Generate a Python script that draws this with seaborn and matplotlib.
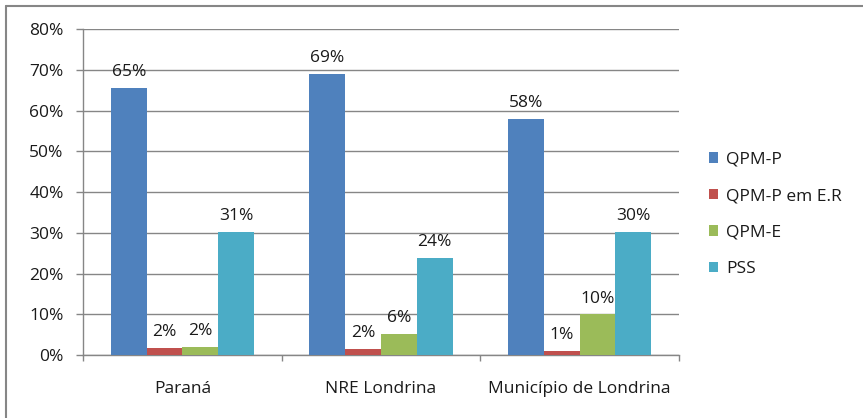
import matplotlib
matplotlib.use("Agg")
import matplotlib.pyplot as plt
import seaborn as sns
import pandas as pd
from matplotlib.patches import Patch
from matplotlib.lines import Line2D

# data
categories = ["Paraná", "NRE Londrina", "Município de Londrina"]
series = ["QPM-P", "QPM-P em E.R", "QPM-E", "PSS"]
qpm_p = [0.655, 0.69, 0.58]
qpm_p_er = [0.017, 0.015, 0.010]
qpm_e = [0.020, 0.052, 0.100]
pss = [0.302, 0.238, 0.302]
value_labels = {
    "QPM-P": ["65%", "69%", "58%"],
    "QPM-P em E.R": ["2%", "2%", "1%"],
    "QPM-E": ["2%", "6%", "10%"],
    "PSS": ["31%", "24%", "30%"],
}
y_ticks = [0, 0.1, 0.2, 0.3, 0.4, 0.5, 0.6, 0.7, 0.8]
colors = ["#4F81BD", "#C0504D", "#9BBB59", "#4BACC6"]

rows = []
for name, vals in zip(series, [qpm_p, qpm_p_er, qpm_e, pss]):
    for cat, v in zip(categories, vals):
        rows.append({"local": cat, "tipo": name, "valor": v})
df = pd.DataFrame(rows)

sns.set_style("white")
plt.rcParams["font.family"] = ["Open Sans", "DejaVu Sans"]
FS = 12.5

fig = plt.figure(figsize=(8.63, 4.18), dpi=100)
ax = fig.add_axes([0.0962, 0.1507, 0.6906, 0.7799])

sns.barplot(data=df, x="local", y="valor", hue="tipo", order=categories,
            hue_order=series, palette=colors, width=0.72, saturation=1,
            errorbar=None, ax=ax, legend=False, zorder=3, linewidth=0)

# value labels above bars
for container, name in zip(ax.containers, series):
    for bar, lab in zip(container, value_labels[name]):
        ax.annotate(lab, (bar.get_x() + bar.get_width() / 2, bar.get_height()),
                    xytext=(0, 5.5), textcoords="offset points",
                    ha="center", va="bottom", fontsize=FS, color="#1a1a1a")

ax.set_ylim(0, 0.8)
ax.set_xlim(-0.5, len(categories) - 0.5)
ax.set_yticks(y_ticks)
ax.set_yticklabels([f"{int(round(t * 100))}%" for t in y_ticks])
ax.yaxis.grid(True, color="#868686", linewidth=1, zorder=0)
ax.set_axisbelow(True)
ax.set_xlabel("")
ax.set_ylabel("")

for side in ["top", "right"]:
    ax.spines[side].set_visible(False)
for side in ["left", "bottom"]:
    ax.spines[side].set_color("#868686")
    ax.spines[side].set_linewidth(1)

ax.tick_params(axis="y", length=5, width=1, color="#868686", pad=9,
               labelsize=FS, labelcolor="#1a1a1a", left=True)
ax.set_xticks(range(len(categories)))
ax.set_xticklabels(categories)
ax.tick_params(axis="x", which="major", length=0, pad=19, labelsize=FS,
               labelcolor="#1a1a1a")
ax.set_xticks([i - 0.5 for i in range(len(categories) + 1)], minor=True)
ax.tick_params(axis="x", which="minor", length=4, width=1, color="#868686",
               bottom=True)

handles = [Patch(facecolor=c, edgecolor="none", label=s) for c, s in zip(colors, series)]
fig.legend(handles=handles, loc="center left", bbox_to_anchor=(0.821, 0.487),
           frameon=False, fontsize=FS, handlelength=0.55, handleheight=0.55,
           handletextpad=0.45, labelspacing=1.18, borderpad=0, borderaxespad=0,
           labelcolor="#1a1a1a")

# chart area border (left and top edges visible)
fig.add_artist(Line2D([0.0064, 0.0064], [0, 0.986], transform=fig.transFigure,
                      color="#868686", linewidth=1.5))
fig.add_artist(Line2D([0.0064, 1], [0.986, 0.986], transform=fig.transFigure,
                      color="#868686", linewidth=1.5))

fig.savefig("out.png", dpi=100)
